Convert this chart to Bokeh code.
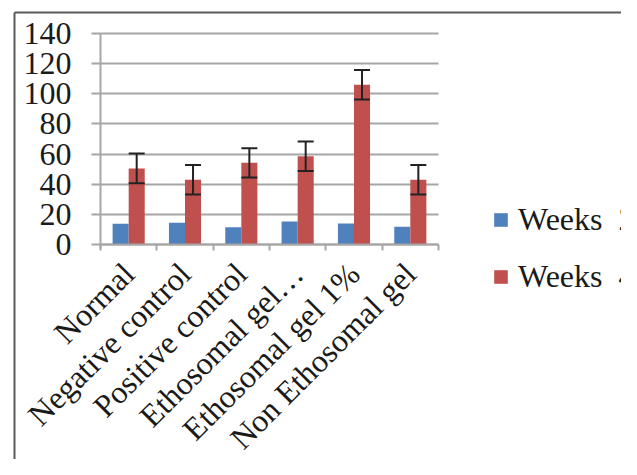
from bokeh.plotting import figure
from bokeh.models import (ColumnDataSource, Range1d, FixedTicker, Legend, LegendItem,
                          Whisker, TeeHead, Grid)
from bokeh.transform import dodge
from bokeh.embed import file_html
from bokeh.resources import INLINE

categories = ["Normal", "Negative control", "Positive control",
              "Ethosomal gel\u2026", "Ethosomal gel 1%", "Non Ethosomal gel"]
weeks2 = [13.7, 14.4, 11.5, 15.3, 13.9, 11.7]
weeks4 = [50.5, 42.9, 54.2, 58.6, 106.0, 42.9]
err4 = [9.8, 9.8, 9.7, 9.8, 9.8, 9.8]
series_names = ["Weeks  2", "Weeks  4"]
y_ticks = [0, 20, 40, 60, 80, 100, 120, 140]

FONT = "Liberation Serif"
TXT = "#1a1a1a"
GRID = "#a6a6a6"
BLUE = "#4f81bd"
RED = "#c0504d"
FRAME = "#5a5a5a"

# ---- layout geometry (canvas pixels) ----
W, H = 621, 459
PX_X = 56.33          # pixels per category
PX_Y = 1.5071         # pixels per y unit
X0_PIX, Y0_PIX = 100, 244   # canvas position of (0, 0)

n = len(categories)
x_start = -X0_PIX / PX_X
x_end = (W - X0_PIX) / PX_X
y_end = Y0_PIX / PX_Y
y_start = -(H - Y0_PIX) / PX_Y

xc = [i + 0.5 for i in range(n)]
src = ColumnDataSource(dict(
    xc=xc, w2=weeks2, w4=weeks4,
    up=[v + e for v, e in zip(weeks4, err4)],
    lo=[v - e for v, e in zip(weeks4, err4)],
))

p = figure(width=W, height=H, output_backend="svg", toolbar_location=None,
           x_range=Range1d(x_start, x_end), y_range=Range1d(y_start, y_end),
           min_border=0)
p.outline_line_color = None
p.background_fill_color = "white"
p.border_fill_color = "white"

bw = 0.285
r2 = p.vbar(x=dodge("xc", -bw / 2), top="w2", width=bw, source=src,
            fill_color=BLUE, line_color=None)
r4 = p.vbar(x=dodge("xc", bw / 2), top="w4", width=bw, source=src,
            fill_color=RED, line_color=None)

wh = Whisker(base=dodge("xc", bw / 2), upper="up", lower="lo", source=src,
             line_color="#222222", line_width=2, level="overlay",
             upper_head=TeeHead(size=16, line_color="#222222", line_width=2),
             lower_head=TeeHead(size=16, line_color="#222222", line_width=2))
p.add_layout(wh)

p.xgrid.grid_line_color = None
p.ygrid.grid_line_color = GRID
p.ygrid.grid_line_width = 2
p.ygrid.cross_bounds = (0, n)

# value-axis line (a bounded vertical rule at x = 0)
p.add_layout(Grid(dimension=0, ticker=FixedTicker(ticks=[0]),
                  cross_bounds=(-4 / PX_Y, 140), grid_line_color=GRID,
                  grid_line_width=2))

# outer chart-area border (left and top edges)
bx = x_start + 14 / PX_X
by = y_end - 12 / PX_Y
p.add_layout(Grid(dimension=0, ticker=FixedTicker(ticks=[bx]),
                  cross_bounds=(y_start, by), grid_line_color=FRAME,
                  grid_line_width=2))
p.add_layout(Grid(dimension=1, ticker=FixedTicker(ticks=[by]),
                  cross_bounds=(bx, x_end), grid_line_color=FRAME,
                  grid_line_width=2))

ya = p.yaxis[0]
ya.ticker = FixedTicker(ticks=y_ticks)
ya.fixed_location = 0
ya.bounds = (0, 140)
ya.axis_line_color = None
ya.major_tick_line_color = GRID
ya.major_tick_line_width = 2
ya.major_tick_out = 9
ya.major_tick_in = 0
ya.minor_tick_line_color = None
ya.major_label_standoff = 20
ya.major_label_text_font = FONT
ya.major_label_text_font_size = "32px"
ya.major_label_text_color = TXT

xa = p.xaxis[0]
xa.ticker = FixedTicker(ticks=xc, minor_ticks=list(range(n + 1)))
xa.major_label_overrides = {x: c for x, c in zip(xc, categories)}
xa.major_label_orientation = 3.14159265 / 4
xa.fixed_location = 0
xa.bounds = (0, n)
xa.axis_line_color = GRID
xa.axis_line_width = 2
xa.major_tick_line_color = None
xa.major_tick_out = 0
xa.major_tick_in = 0
xa.minor_tick_line_color = GRID
xa.minor_tick_line_width = 2
xa.minor_tick_out = 6
xa.minor_tick_in = 0
xa.major_label_standoff = 18
xa.major_label_text_font = FONT
xa.major_label_text_font_size = "32px"
xa.major_label_text_color = TXT

legend = Legend(items=[LegendItem(label=series_names[0], renderers=[r2]),
                       LegendItem(label=series_names[1], renderers=[r4])],
                location=(492, 164), padding=0, margin=0, spacing=20,
                glyph_width=17, glyph_height=17, label_standoff=9,
                label_text_font=FONT, label_text_font_size="32px",
                label_text_color=TXT, border_line_color=None,
                background_fill_alpha=0)
p.add_layout(legend)

open("out.html", "w").write(file_html(p, INLINE))
